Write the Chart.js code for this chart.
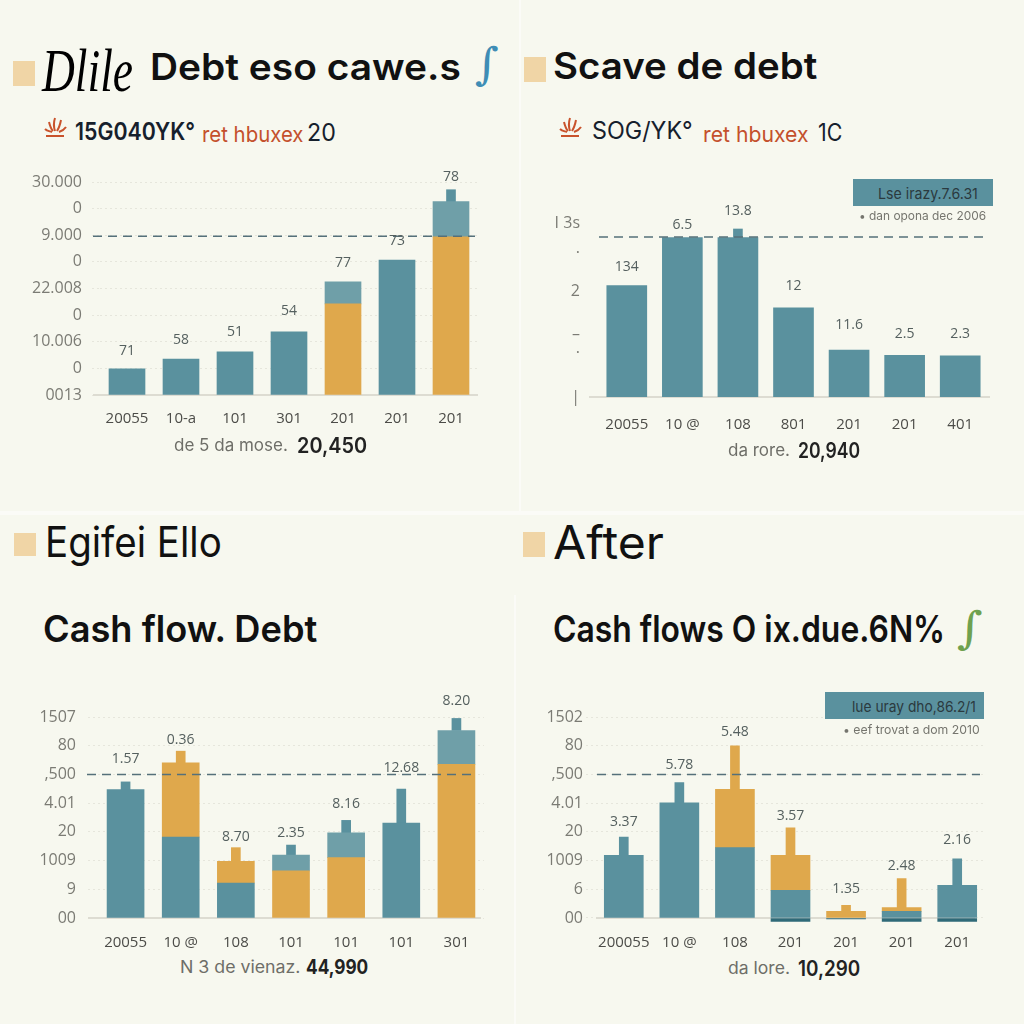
<!DOCTYPE html>
<html>
<head>
<meta charset="utf-8">
<title>Debt charts</title>
<script src="https://cdn.jsdelivr.net/npm/chart.js@4"></script>
<style>
  html, body { margin: 0; padding: 0; background: #f7f8ef; }
  #page { position: relative; width: 1024px; height: 1024px; overflow: hidden; background: #f7f8ef; }
  #page canvas { position: absolute; }
  .txt { position: absolute; white-space: nowrap; line-height: 1; transform-origin: left center; }
  .block { position: absolute; }
</style>
</head>
<body>
<div id="page"></div>
<script>
// top left
const debtYears = ['20055', '10-a', '101', '301', '201', '201', '201'];
const debtTicks = [0, 10, 20, 30, 40, 50, 60, 70, 80];
const debtTickLabels = ['0013', '0', '10.006', '0', '22.008', '0', '9.000', '0', '30.000'];
const debtTeal = [9.8, 13.5, 16.2, 23.7, 0, 50.7, 0];
const debtOrange = [0, 0, 0, 0, 34.2, 0, 59.4];
const debtLight = [0, 0, 0, 0, 8.3, 0, 13.2];
const debtStemTeal = [0, 0, 0, 0, 0, 0, 4.5];
const debtStemOrange = [0, 0, 0, 0, 0, 0, 0];
const debtValues = ['71', '58', '51', '54', '77', '73', '78'];
const debtRef = 59.6;

// top right
const scaveYears = ['20055', '10 @', '108', '801', '201', '201', '401'];
const scaveTicks = [0, 16.5, 23.6, 39.4, 54, 65.2];
const scaveTickLabels = ['|', '·', '–', '2', '·', 'I 3s'];
const scaveTeal = [41.8, 59.8, 59.8, 33.4, 17.6, 15.6, 15.4];
const scaveOrange = [0, 0, 0, 0, 0, 0, 0];
const scaveLight = [0, 0, 0, 0, 0, 0, 0];
const scaveStemTeal = [0, 0, 3.2, 0, 0, 0, 0];
const scaveStemOrange = [0, 0, 0, 0, 0, 0, 0];
const scaveValues = ['134', '6.5', '13.8', '12', '11.6', '2.5', '2.3'];
const scaveRef = 60;

// bottom left
const cashYears = ['20055', '10 @', '108', '101', '101', '101', '301'];
const cashTicks = [0, 10, 20, 30, 40, 50, 60, 70];
const cashTickLabels = ['00', '9', '1009', '20', '4.01', ',500', '80', '1507'];
const cashTeal = [44.7, 28.2, 12.2, 0, 0, 33.1, 0];
const cashOrange = [0, 25.8, 7.5, 16.4, 21, 0, 53.5];
const cashLight = [0, 0, 0, 5.5, 8.7, 0, 11.8];
const cashStemTeal = [2.7, 0, 0, 3.5, 4.3, 11.8, 4.2];
const cashStemOrange = [0, 4.1, 4.8, 0, 0, 0, 0];
const cashValues = ['1.57', '0.36', '8.70', '2.35', '8.16', '12.68', '8.20'];
const cashRef = 50;

// bottom right
const afterYears = ['200055', '10 @', '108', '201', '201', '201', '201'];
const afterTicks = [0, 10, 20, 30, 40, 50, 60, 70];
const afterTickLabels = ['00', '6', '1009', '20', '4.01', ',500', '80', '1502'];
const afterTeal = [21.8, 40.1, 24.5, 9.6, 0, 2.3, 11.4];
const afterOrange = [0, 0, 20.3, 12.2, 2.3, 1.3, 0];
const afterLight = [0, 0, 0, 0, 0, 0, 0];
const afterStemTeal = [6.4, 7.1, 0, 0, 0, 0, 9.2];
const afterStemOrange = [0, 0, 15.2, 9.6, 2.1, 10.1, 0];
const afterUnder = [0, 0, 0, -1.2, -0.3, -1.2, -1.2];
const afterValues = ['3.37', '5.78', '5.48', '3.57', '1.35', '2.48', '2.16'];
const afterRef = 50;

const TEAL = '#5a919e';
const LIGHT = '#6f9fa8';
const ORANGE = '#dfa84c';
const DARK = '#2f6a78';
const SANS = 'Inter, sans-serif';
const TICK_FONT = '"Open Sans", sans-serif';

const page = document.getElementById('page');

function place(text, left, cy, width, font, color) {
  const el = document.createElement('span');
  el.className = 'txt';
  el.textContent = text;
  el.style.left = left + 'px';
  el.style.top = cy + 'px';
  el.style.font = font;
  el.style.lineHeight = '1';
  el.style.color = color;
  page.appendChild(el);
  const k = width / el.offsetWidth;
  el.style.transform = `translateY(-50%) scaleX(${k})`;
  return el;
}

function block(left, top, width, height, color) {
  const el = document.createElement('div');
  el.className = 'block';
  el.style.cssText = `left:${left}px;top:${top}px;width:${width}px;height:${height}px;background:${color}`;
  page.appendChild(el);
}

function flower(left, top) {
  const ns = 'http://www.w3.org/2000/svg';
  const svg = document.createElementNS(ns, 'svg');
  svg.setAttribute('width', 24);
  svg.setAttribute('height', 24);
  svg.style.cssText = `position:absolute;left:${left}px;top:${top}px`;
  ['M11 2 C9 8 10 12 11 15', 'M5 6 C6 10 7 13 9 15', 'M17 4 C16 9 15 12 13 15', 'M1 13 C3 15 5 15 8 16', 'M22 11 C20 14 18 15 15 16', 'M2 20 L20 20'].forEach((d) => {
    const path = document.createElementNS(ns, 'path');
    path.setAttribute('d', d);
    path.setAttribute('fill', 'none');
    path.setAttribute('stroke', '#c9532c');
    path.setAttribute('stroke-width', '2');
    svg.appendChild(path);
  });
  page.appendChild(svg);
}

// dashed level, base line and the little numbers over the bars
const panelMarks = {
  id: 'panelMarks',
  beforeDatasetsDraw(chart) {
    const { ctx, chartArea, scales } = chart;
    const marks = chart.options.plugins.panelMarks;
    const y0 = scales.y.getPixelForValue(0);
    ctx.save();
    ctx.strokeStyle = '#dddcd2';
    ctx.lineWidth = 2;
    ctx.beginPath();
    ctx.moveTo(chartArea.left - marks.baseLeft, y0);
    ctx.lineTo(chartArea.right + marks.baseRight, y0);
    ctx.stroke();
    ctx.restore();
  },
  afterDatasetsDraw(chart) {
    const { ctx, chartArea, scales, data } = chart;
    const marks = chart.options.plugins.panelMarks;
    const yRef = scales.y.getPixelForValue(marks.ref);
    ctx.save();
    ctx.strokeStyle = '#55707a';
    ctx.lineWidth = 1.5;
    ctx.setLineDash([9, 6]);
    ctx.beginPath();
    ctx.moveTo(chartArea.left - marks.refLeft, yRef);
    ctx.lineTo(chartArea.right + marks.refRight, yRef);
    ctx.stroke();
    ctx.setLineDash([]);
    ctx.fillStyle = '#55605f';
    ctx.font = '14px ' + TICK_FONT;
    ctx.textAlign = 'center';
    ctx.textBaseline = 'middle';
    marks.values.forEach((text, i) => {
      let top = 0;
      data.datasets.forEach((ds) => { if (ds.data[i] > 0) top += ds.data[i]; });
      ctx.fillText(text, scales.x.getPixelForValue(i), scales.y.getPixelForValue(top) - marks.gaps[i]);
    });
    ctx.restore();
  },
};

// a zero in a series means no segment there, not a flat one
const segment = (values) => values.map((v) => v || null);

function drawPanel(cfg) {
  const canvas = document.createElement('canvas');
  canvas.width = cfg.box[2];
  canvas.height = cfg.box[3];
  canvas.style.cssText = `left:${cfg.box[0]}px;top:${cfg.box[1]}px;width:${cfg.box[2]}px;height:${cfg.box[3]}px`;
  page.appendChild(canvas);

  const datasets = [
    { data: segment(cfg.teal), backgroundColor: TEAL, barThickness: cfg.barWidth },
    { data: segment(cfg.orange), backgroundColor: ORANGE, barThickness: cfg.barWidth },
    { data: segment(cfg.light), backgroundColor: LIGHT, barThickness: cfg.barWidth },
    { data: segment(cfg.stemTeal), backgroundColor: TEAL, barThickness: 9 },
    { data: segment(cfg.stemOrange), backgroundColor: ORANGE, barThickness: 9 },
  ];
  if (cfg.under) datasets.push({ data: segment(cfg.under), backgroundColor: DARK, barThickness: cfg.barWidth });

  return new Chart(canvas.getContext('2d'), {
    type: 'bar',
    data: { labels: cfg.years, datasets },
    plugins: [panelMarks],
    options: {
      responsive: false,
      animation: false,
      layout: { padding: { top: cfg.area.top - cfg.box[1], right: cfg.box[0] + cfg.box[2] - cfg.area.right, left: 0, bottom: 0 } },
      plugins: {
        legend: { display: false },
        tooltip: { enabled: false },
        panelMarks: { ref: cfg.ref, values: cfg.values, gaps: cfg.gaps, baseLeft: cfg.baseLeft, baseRight: cfg.baseRight, refLeft: cfg.refLeft, refRight: cfg.refRight },
      },
      scales: {
        x: {
          stacked: true,
          grid: { display: false },
          border: { display: false },
          ticks: { color: '#4c4c48', font: { family: '"Open Sans"', size: 15 }, padding: cfg.xPad, maxRotation: 0, autoSkip: false },
          afterFit(scale) { scale.height = cfg.box[1] + cfg.box[3] - cfg.area.bottom; },
        },
        y: {
          stacked: true,
          min: cfg.min,
          max: cfg.max,
          afterBuildTicks(scale) { scale.ticks = cfg.ticks.map((value) => ({ value })); },
          grid: {
            display: cfg.grid,
            color: '#e6e6dc',
            tickColor: '#e6e6dc',
            tickLength: cfg.gridExtend,
            tickBorderDash: [2, 3],
          },
          border: { display: false, dash: [2, 3] },
          ticks: {
            color: '#7b7b74',
            font: { family: '"Open Sans"', size: 16 },
            padding: cfg.yPad,
            autoSkip: false,
            callback(value) { return cfg.tickLabels[cfg.ticks.indexOf(value)]; },
          },
          afterFit(scale) { scale.width = cfg.area.left - cfg.box[0]; },
        },
      },
    },
  });
}

drawPanel({
  box: [0, 160, 512, 280], area: { left: 100, right: 478, top: 182, bottom: 395 },
  years: debtYears, ticks: debtTicks, tickLabels: debtTickLabels, min: 0, max: 80,
  teal: debtTeal, orange: debtOrange, light: debtLight, stemTeal: debtStemTeal, stemOrange: debtStemOrange,
  values: debtValues, ref: debtRef, barWidth: 36, xPad: 7, yPad: 10, grid: true, gridExtend: 8,
  gaps: [18, 19, 20, 21, 19, 19, 13], baseLeft: 7, baseRight: 0, refLeft: 7, refRight: -3,
});

drawPanel({
  box: [512, 160, 512, 280], area: { left: 599, right: 988, top: 221, bottom: 397 },
  years: scaveYears, ticks: scaveTicks, tickLabels: scaveTickLabels, min: 0, max: 66,
  teal: scaveTeal, orange: scaveOrange, light: scaveLight, stemTeal: scaveStemTeal, stemOrange: scaveStemOrange,
  values: scaveValues, ref: scaveRef, barWidth: 40, xPad: 11, yPad: 19, grid: false, gridExtend: 0,
  gaps: [19, 13, 18, 22, 25, 21, 22], baseLeft: 10, baseRight: 2, refLeft: 0, refRight: 1,
});

drawPanel({
  box: [0, 670, 512, 285], area: { left: 98, right: 484, top: 717, bottom: 918 },
  years: cashYears, ticks: cashTicks, tickLabels: cashTickLabels, min: 0, max: 70,
  teal: cashTeal, orange: cashOrange, light: cashLight, stemTeal: cashStemTeal, stemOrange: cashStemOrange,
  values: cashValues, ref: cashRef, barWidth: 37, xPad: 8, yPad: 12, grid: true, gridExtend: 10,
  gaps: [23, 11, 11, 12, 16, 21, 17], baseLeft: 10, baseRight: -3, refLeft: 11, refRight: -10,
});

drawPanel({
  box: [512, 670, 512, 285], area: { left: 596, right: 985, top: 717, bottom: 923.7 },
  years: afterYears, ticks: afterTicks, tickLabels: afterTickLabels, min: -2, max: 70,
  teal: afterTeal, orange: afterOrange, light: afterLight, stemTeal: afterStemTeal, stemOrange: afterStemOrange, under: afterUnder,
  values: afterValues, ref: afterRef, barWidth: 39, xPad: 2, yPad: 3, grid: true, gridExtend: 10,
  gaps: [15, 17, 14, 12, 16, 13, 19], baseLeft: 0, baseRight: -10, refLeft: -1, refRight: -5,
});

// panel seams
block(0, 511, 1024, 4, '#fbfbf7');
block(519, 0, 2, 511, '#fbfbf7');
block(514, 595, 2, 429, '#fbfbf7');

// headers
block(13, 61, 22, 25, '#f0d5a6');
block(524, 57, 22, 25, '#f0d5a6');
block(14, 533, 22, 23, '#f0d5a6');
block(523, 532, 22, 25, '#f0d5a6');

const titleFont = '600 37px ' + SANS;
place('Dlile', 42, 70, 91, 'italic 62px "Liberation Serif"', '#000');
place('Debt eso cawe.s', 150, 66, 311, titleFont, '#111');
place('∫', 475, 64, 24, 'italic 44px "DejaVu Serif"', '#3f8db5');
place('Scave de debt', 553, 65, 264, titleFont, '#111');
place('Egifei Ello', 45, 542, 177, '42px ' + SANS, '#111');
place('After', 553, 542, 111, '46px ' + SANS, '#111');
place('Cash flow. Debt', 43, 628, 274, titleFont, '#111');
place('Cash flows O ix.due.6N%', 553, 628, 392, titleFont, '#111');
place('∫', 957, 628, 26, 'italic 44px "DejaVu Serif"', '#6fa14f');

// sub headers
flower(44, 116);
place('15G040YK°', 75, 132, 120, '600 24px ' + SANS, '#16202c');
place('ret hbuxex', 202, 134, 101, '22px ' + SANS, '#c4502c');
place('20', 307, 133, 29, '24px ' + SANS, '#16202c');
flower(559, 116);
place('SOG/YK°', 592, 131, 101, '24px ' + SANS, '#16202c');
place('ret hbuxex', 703, 134, 105, '22px ' + SANS, '#c4502c');
place('1C', 818, 133, 24, '24px ' + SANS, '#16202c');

// legend boxes
block(853, 179, 140, 27, TEAL);
place('Lse irazy.7.6.31', 878, 193, 100, '15px ' + SANS, '#2b3a3f');
place('• dan opona dec 2006', 859, 216, 127, '12px ' + SANS, '#75756e');
block(825, 692, 159, 27, TEAL);
place('lue uray dho,86.2/1', 852, 706, 124, '15px ' + SANS, '#2b3a3f');
place('• eef trovat a dom 2010', 843, 730, 137, '12px ' + SANS, '#75756e');

// captions
place('de 5 da mose.', 174, 445, 114, '17px ' + SANS, '#6e6e68');
place('20,450', 297, 445, 70, '600 21px ' + SANS, '#222');
place('da rore.', 728, 450, 62, '17px ' + SANS, '#6e6e68');
place('20,940', 798, 450, 62, '600 21px ' + SANS, '#222');
place('N 3 de vienaz.', 180, 967, 120, '17px ' + SANS, '#6e6e68');
place('44,990', 306, 967, 62, '700 20px ' + SANS, '#222');
place('da lore.', 728, 968, 62, '17px ' + SANS, '#6e6e68');
place('10,290', 798, 968, 62, '600 21px ' + SANS, '#222');
</script>
</body>
</html>
